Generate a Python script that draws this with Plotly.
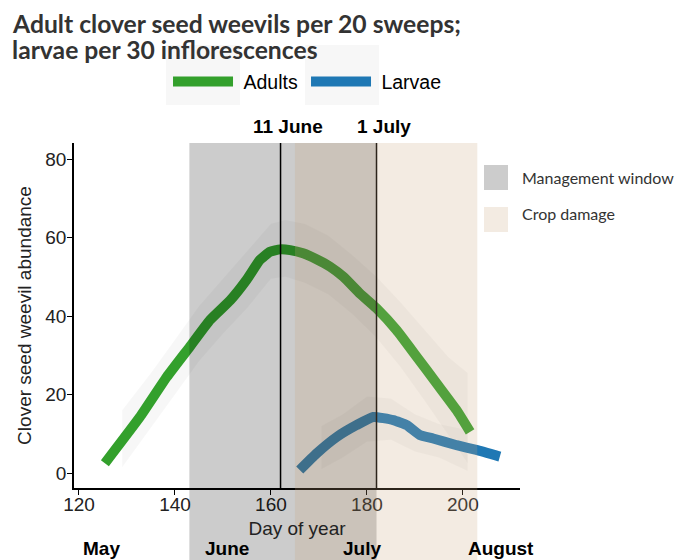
import plotly.graph_objects as go

# ---- data ----
adult_day = [125.4, 132.7, 138.3, 143.1, 147.3, 151.5, 154.9, 157.7, 159.8, 161.9,
             164, 166.7, 169.5, 172.3, 175.1, 178.5, 182, 186.2, 190.4, 194.5, 198.7, 201.5]
adult_val = [2.5, 14.3, 24.5, 32.2, 39, 44, 49.2, 54.3, 56.4, 57,
             56.8, 56, 54.5, 52.6, 50, 45.8, 42, 36.4, 29.6, 22.9, 16, 10.5]

larva_day = [166, 169.5, 173.7, 177.8, 181.3, 185.5, 188.3, 191, 193.8, 198.7, 202.8, 207.7]
larva_val = [0.8, 5, 9.2, 12.2, 14.3, 13.5, 12.2, 9.7, 8.8, 7.1, 5.9, 4.2]

adult_band_day = [129, 135, 140, 145, 150, 155, 160, 163, 167, 172, 177, 182, 187, 192, 197, 201]
adult_band_lo = [1.5, 11.5, 20, 28.5, 35.5, 42, 49.5, 50, 48.5, 45.5, 40.5, 34.5, 27, 18.5, 9.5, 2.5]
adult_band_hi = [16, 25.5, 34, 42.5, 49.5, 56.5, 63.5, 64.5, 63.5, 60.5, 55.5, 50, 43.5, 36.5, 29.5, 25.5]

larva_band_day = [170.5, 175, 180, 185, 190, 195, 201]
larva_band_lo = [1, 4, 8, 8.5, 5.5, 4, 0.5]
larva_band_hi = [12, 15, 19.5, 19, 15, 12.5, 11]

x_ticks = [120, 140, 160, 180, 200]
y_ticks = [0, 20, 40, 60, 80]

mgmt_window = (143, 182)
crop_damage = (165, 203)
key_dates = [(162, "11 June"), (182, "1 July")]
months = [(124.6, "May"), (150.8, "June"), (179, "July"), (208, "August")]

GREEN = "#33a02c"
BLUE = "#1f78b4"
BAND = "rgba(0,0,0,0.03)"
MGMT = "rgba(0,0,0,0.2)"
CROP = "rgba(200,165,125,0.22)"

fig = go.Figure()

# confidence bands
fig.add_trace(go.Scatter(x=adult_band_day, y=adult_band_lo, mode="lines", line=dict(width=0),
                         showlegend=False, hoverinfo="skip"))
fig.add_trace(go.Scatter(x=adult_band_day, y=adult_band_hi, mode="lines", line=dict(width=0),
                         fill="tonexty", fillcolor=BAND, showlegend=False, hoverinfo="skip"))
fig.add_trace(go.Scatter(x=larva_band_day, y=larva_band_lo, mode="lines", line=dict(width=0),
                         showlegend=False, hoverinfo="skip"))
fig.add_trace(go.Scatter(x=larva_band_day, y=larva_band_hi, mode="lines", line=dict(width=0),
                         fill="tonexty", fillcolor=BAND, showlegend=False, hoverinfo="skip"))

# lines
fig.add_trace(go.Scatter(x=adult_day, y=adult_val, mode="lines", name="\u00a0Adults",
                         line=dict(color=GREEN, width=10, shape="spline", smoothing=0.4)))
fig.add_trace(go.Scatter(x=larva_day, y=larva_val, mode="lines", name="\u00a0Larvae",
                         line=dict(color=BLUE, width=10, shape="spline", smoothing=0.4)))

shapes = []
for d, _ in key_dates:
    shapes.append(dict(type="line", xref="x", yref="paper", x0=d, x1=d, y0=0, y1=1,
                       line=dict(color="black", width=1.5), layer="above"))
shapes.append(dict(type="rect", xref="x", yref="paper", x0=mgmt_window[0], x1=mgmt_window[1],
                   y0=-0.22, y1=1, fillcolor=MGMT, line=dict(width=0), layer="above"))
shapes.append(dict(type="rect", xref="x", yref="paper", x0=crop_damage[0], x1=crop_damage[1],
                   y0=-0.22, y1=1, fillcolor=CROP, line=dict(width=0), layer="above"))
# top legend key backgrounds
for x0, x1 in [(0.2063, 0.3722), (0.518, 0.684)]:
    shapes.append(dict(type="rect", xref="paper", yref="paper", x0=x0, x1=x1, y0=1.110, y1=1.284,
                       fillcolor="#f7f7f7", line=dict(width=0), layer="below"))
# right legend keys
shapes.append(dict(type="rect", xref="paper", yref="paper", x0=0.9193, x1=0.9731, y0=0.8638, y1=0.9362,
                   fillcolor="#cccccc", line=dict(width=0)))
shapes.append(dict(type="rect", xref="paper", yref="paper", x0=0.9193, x1=0.9731, y0=0.7420, y1=0.8145,
                   fillcolor="#f3ebe2", line=dict(width=0)))

ann = []
ann.append(dict(text="Adult clover seed weevils per 20 sweeps;", xref="paper", yref="paper",
                x=-0.143, y=1.345, xanchor="left", yanchor="middle", showarrow=False,
                font=dict(family="Lato", size=24.7, color="#333333", weight="bold")))
ann.append(dict(text="larvae per 30 inflorescences", xref="paper", yref="paper",
                x=-0.143, y=1.272, xanchor="left", yanchor="middle", showarrow=False,
                font=dict(family="Lato", size=24.7, color="#333333", weight="bold")))
for d, lab in key_dates:
    ann.append(dict(text="<b>%s</b>" % lab, xref="x", yref="paper", x=d + 1.5, y=1.049,
                    xanchor="center", yanchor="middle", showarrow=False,
                    font=dict(family="Liberation Sans", size=19, color="black")))
for d, lab in months:
    ann.append(dict(text="<b>%s</b>" % lab, xref="x", yref="paper", x=d, y=-0.174,
                    xanchor="center", yanchor="middle", showarrow=False,
                    font=dict(family="Liberation Sans", size=19, color="black")))
ann.append(dict(text="Management window", xref="paper", yref="paper", x=1.0, y=0.9014,
                xanchor="left", yanchor="middle", showarrow=False,
                font=dict(family="Lato", size=16, color="#333333")))
ann.append(dict(text="Crop damage", xref="paper", yref="paper", x=1.0, y=0.7971,
                xanchor="left", yanchor="middle", showarrow=False,
                font=dict(family="Lato", size=16, color="#333333")))

fig.update_layout(
    width=686, height=560,
    margin=dict(l=74, r=166, t=143, b=72, autoexpand=False),
    paper_bgcolor="white", plot_bgcolor="white",
    shapes=shapes, annotations=ann,
    showlegend=True,
    legend=dict(orientation="h", x=0.2108, y=1.177, xanchor="left", yanchor="middle",
                font=dict(family="Liberation Sans", size=19.5, color="black"),
                itemwidth=60, entrywidth=63, entrywidthmode="pixels",
                bgcolor="rgba(0,0,0,0)", traceorder="normal"),
    xaxis=dict(range=[118.96, 211.9], tickvals=x_ticks, ticks="outside", ticklen=5,
               tickcolor="black", showline=True, linecolor="black", linewidth=1.5,
               showgrid=False, zeroline=False, automargin=False, ticklabelstandoff=-7,
               tickfont=dict(family="Liberation Sans", size=19, color="#222222"),
               title=dict(text="Day of year", standoff=8,
                          font=dict(family="Liberation Sans", size=19, color="#222222"))),
    yaxis=dict(range=[-3.8, 84.1], tickvals=y_ticks, ticks="outside", ticklen=5,
               tickcolor="black", showline=True, linecolor="black", linewidth=1.5,
               showgrid=False, zeroline=False, automargin=False, ticklabelstandoff=-3,
               tickfont=dict(family="Liberation Sans", size=19, color="#222222"),
               title=dict(text="Clover seed weevil abundance", standoff=9,
                          font=dict(family="Liberation Sans", size=19, color="#222222"))),
)

fig.write_html("out.html", config={"displayModeBar": False},
               post_script="document.body.style.margin='0';")
